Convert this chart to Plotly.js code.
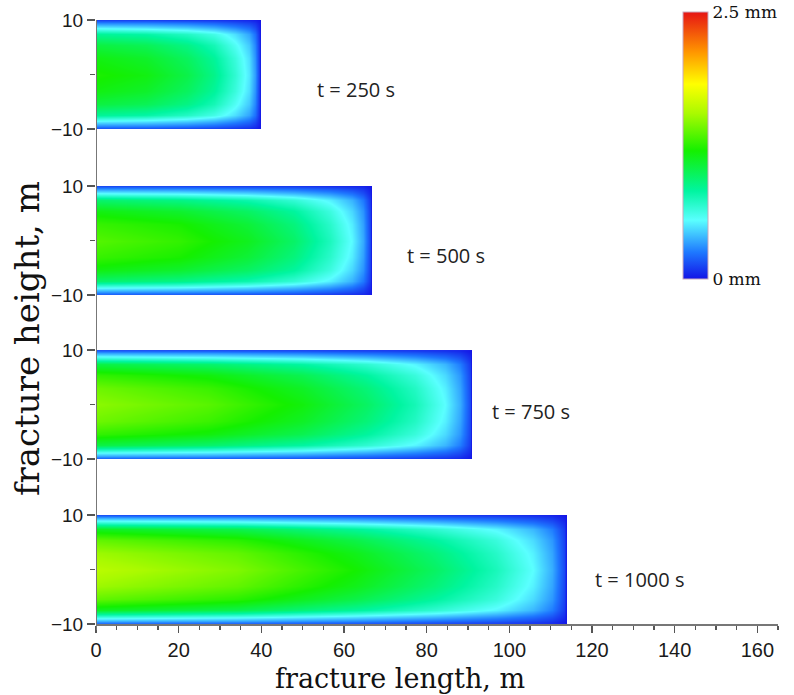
<!DOCTYPE html>
<html>
<head>
<meta charset="utf-8">
<script src="https://cdn.plot.ly/plotly-3.0.1.min.js"></script>
<style>html,body{margin:0;padding:0;background:#fff;}#chart{width:794px;height:695px;}</style>
</head>
<body>
<div id="chart"></div>
<script>
// fracture height positions (m), same for every time step
const heights = [-10, -9.5, -8.8, -7.5, -5.5, -3, 0, 3, 5.5, 7.5, 8.8, 9.5, 10];

// time labels
const timeLabels = ['t = 250 s', 't = 500 s', 't = 750 s', 't = 1000 s'];

// length positions (m) for each time step
const len250  = [0, 12, 22, 28.6, 33.7, 36.9, 38.5, 39.5, 39.7];
const len500  = [0, 20, 36.6, 48, 56.6, 61.9, 64.6, 66.3, 66.6];
const len750  = [0, 27.2, 49.9, 65.4, 77.2, 84.4, 88.1, 90.4, 90.8];
const len1000 = [0, 34.1, 62.6, 81.9, 96.7, 105.8, 110.4, 113.3, 113.8];

// fracture width (mm), rows from centre line (0 m) outwards to the edge (|h| = 0, 3, 5.5, 7.5, 8.8, 9.5, 10)
const width250 = [
  [1.22, 1.16, 1.03, 0.88, 0.68, 0.50, 0.33, 0.12, 0.03],
  [1.16, 1.10, 0.98, 0.84, 0.65, 0.48, 0.31, 0.11, 0.03],
  [1.05, 1.00, 0.89, 0.76, 0.58, 0.43, 0.28, 0.10, 0.03],
  [0.85, 0.81, 0.72, 0.62, 0.48, 0.35, 0.23, 0.08, 0.02],
  [0.49, 0.46, 0.41, 0.35, 0.27, 0.20, 0.13, 0.05, 0.01],
  [0.29, 0.28, 0.25, 0.21, 0.16, 0.12, 0.08, 0.03, 0.01],
  [0.12, 0.12, 0.10, 0.09, 0.07, 0.05, 0.03, 0.01, 0.00]
];
const width500 = [
  [1.35, 1.27, 1.13, 0.96, 0.74, 0.54, 0.36, 0.13, 0.03],
  [1.28, 1.21, 1.07, 0.91, 0.70, 0.51, 0.34, 0.12, 0.03],
  [1.16, 1.09, 0.97, 0.83, 0.64, 0.46, 0.31, 0.11, 0.03],
  [0.95, 0.89, 0.79, 0.67, 0.52, 0.38, 0.25, 0.09, 0.02],
  [0.54, 0.51, 0.45, 0.38, 0.30, 0.22, 0.14, 0.05, 0.01],
  [0.32, 0.30, 0.27, 0.23, 0.18, 0.13, 0.09, 0.03, 0.01],
  [0.14, 0.13, 0.11, 0.10, 0.07, 0.05, 0.04, 0.01, 0.00]
];
const width750 = [
  [1.48, 1.36, 1.17, 0.97, 0.76, 0.55, 0.37, 0.14, 0.03],
  [1.41, 1.29, 1.11, 0.92, 0.72, 0.52, 0.35, 0.13, 0.03],
  [1.27, 1.17, 1.01, 0.83, 0.65, 0.47, 0.32, 0.12, 0.03],
  [1.04, 0.95, 0.82, 0.68, 0.53, 0.39, 0.26, 0.10, 0.02],
  [0.59, 0.54, 0.47, 0.39, 0.30, 0.22, 0.15, 0.06, 0.01],
  [0.36, 0.33, 0.28, 0.23, 0.18, 0.13, 0.09, 0.03, 0.01],
  [0.15, 0.14, 0.12, 0.10, 0.08, 0.06, 0.04, 0.01, 0.00]
];
const width1000 = [
  [1.60, 1.45, 1.20, 0.97, 0.75, 0.55, 0.37, 0.14, 0.03],
  [1.52, 1.38, 1.14, 0.92, 0.71, 0.52, 0.35, 0.13, 0.03],
  [1.38, 1.25, 1.03, 0.83, 0.65, 0.47, 0.32, 0.12, 0.03],
  [1.12, 1.02, 0.84, 0.68, 0.53, 0.39, 0.26, 0.10, 0.02],
  [0.64, 0.58, 0.48, 0.39, 0.30, 0.22, 0.15, 0.06, 0.01],
  [0.38, 0.35, 0.29, 0.23, 0.18, 0.13, 0.09, 0.03, 0.01],
  [0.16, 0.15, 0.12, 0.10, 0.08, 0.06, 0.04, 0.01, 0.00]
];

// x ticks and colour bar labels
const xTicks = [0, 20, 40, 60, 80, 100, 120, 140, 160];
const cbVals = [0, 2.5];
const cbText = ['0 mm', '2.5 mm'];

// full table: mirror the half rows about the centre line (symmetric fracture)
function fullTable(half) {
  return half.slice().reverse().concat(half.slice(1));
}

const lengths = [len250, len500, len750, len1000];
const widths = [width250, width500, width750, width1000];
const yNames = ['y', 'y2', 'y3', 'y4'];
const labelPos = [[63, -2.8], [84.7, -2.7], [105.3, -1.2], [131.5, -1.9]];

const traces = lengths.map((xs, i) => ({
  type: 'heatmap',
  x: xs,
  y: heights,
  z: fullTable(widths[i]),
  xaxis: 'x',
  yaxis: yNames[i],
  coloraxis: 'coloraxis',
  zsmooth: 'best',
  hoverinfo: 'skip'
}));

const tickFont = {family: 'Liberation Sans, Arial, sans-serif', size: 19, color: '#1a1a1a'};
function yAxis(domain) {
  return {
    domain: domain, anchor: 'x', range: [-10, 10],
    tickmode: 'array', tickvals: [-10, 10], ticktext: ['\u221210', '10'],
    ticks: 'outside', ticklen: 8, tickwidth: 1.5, tickcolor: '#555',
    minor: {tickmode: 'array', tickvals: [0], ticks: 'outside', ticklen: 5, tickcolor: '#555', tickwidth: 1.5},
    tickfont: tickFont, showgrid: false, zeroline: false, showline: false, fixedrange: true
  };
}

const annFont = {family: 'Open Sans, sans-serif', size: 20, color: '#222'};
const annotations = timeLabels.map((t, i) => ({
  text: t, x: labelPos[i][0], y: labelPos[i][1], xref: 'x', yref: yNames[i],
  showarrow: false, font: annFont, xanchor: 'center', yanchor: 'middle'
}));
annotations.push({
  text: 'fracture height, m', xref: 'paper', yref: 'paper', x: -0.101, y: 0.472,
  textangle: -90, showarrow: false, xanchor: 'center', yanchor: 'middle',
  font: {family: 'DejaVu Serif, serif', size: 34, color: '#111'}
});
annotations.push({
  text: 'fracture length, m', xref: 'paper', yref: 'paper', x: 0.446, y: -0.063,
  showarrow: false, xanchor: 'center', yanchor: 'top', borderpad: 0,
  font: {family: 'DejaVu Serif, serif', size: 27, color: '#111'}
});

const layout = {
  width: 794, height: 695,
  margin: {l: 96, r: 16, t: 20, b: 71},
  paper_bgcolor: '#fff', plot_bgcolor: '#fff',
  showlegend: false,
  xaxis: {
    domain: [0, 1], anchor: 'y4', range: [0, 165],
    tickmode: 'array', tickvals: xTicks,
    ticks: 'outside', ticklen: 7, tickwidth: 1.5, tickcolor: '#555',
    minor: {dtick: 5, tick0: 0, ticks: 'outside', ticklen: 4, tickcolor: '#555', tickwidth: 1.2},
    showline: true, linecolor: '#777', linewidth: 2,
    tickfont: {family: 'Liberation Sans, Arial, sans-serif', size: 20, color: '#1a1a1a'},
    showgrid: false, zeroline: false, fixedrange: true
  },
  yaxis: yAxis([0.8195, 1]),
  yaxis2: yAxis([0.5447, 0.7252]),
  yaxis3: yAxis([0.2732, 0.4536]),
  yaxis4: yAxis([0, 0.1805]),
  coloraxis: {
    cmin: 0, cmax: 2.5,
    colorscale: [
      [0, 'rgb(20,20,230)'],
      [0.1, 'rgb(30,120,255)'],
      [0.22, 'rgb(90,255,255)'],
      [0.33, 'rgb(0,245,160)'],
      [0.48, 'rgb(20,240,0)'],
      [0.62, 'rgb(170,250,0)'],
      [0.73, 'rgb(255,255,0)'],
      [0.85, 'rgb(255,150,0)'],
      [1, 'rgb(230,20,20)']
    ],
    colorbar: {
      x: 0.861, xanchor: 'left', xref: 'paper',
      y: 1.013, yanchor: 'top', yref: 'paper',
      len: 0.442, lenmode: 'fraction',
      thickness: 25, thicknessmode: 'pixels',
      xpad: 0, ypad: 0,
      outlinewidth: 1, outlinecolor: '#c9a9bd',
      tickmode: 'array', tickvals: cbVals, ticktext: cbText,
      ticks: '', ticklen: 0,
      tickfont: {family: 'DejaVu Serif, serif', size: 17, color: '#111'}
    }
  },
  shapes: [{
    type: 'line', xref: 'x', yref: 'paper', x0: 0, x1: 0, y0: -0.01, y1: 1,
    line: {color: '#777', width: 2}
  }],
  annotations: annotations
};

Plotly.newPlot('chart', traces, layout, {staticPlot: true, displayModeBar: false});
</script>
</body>
</html>
